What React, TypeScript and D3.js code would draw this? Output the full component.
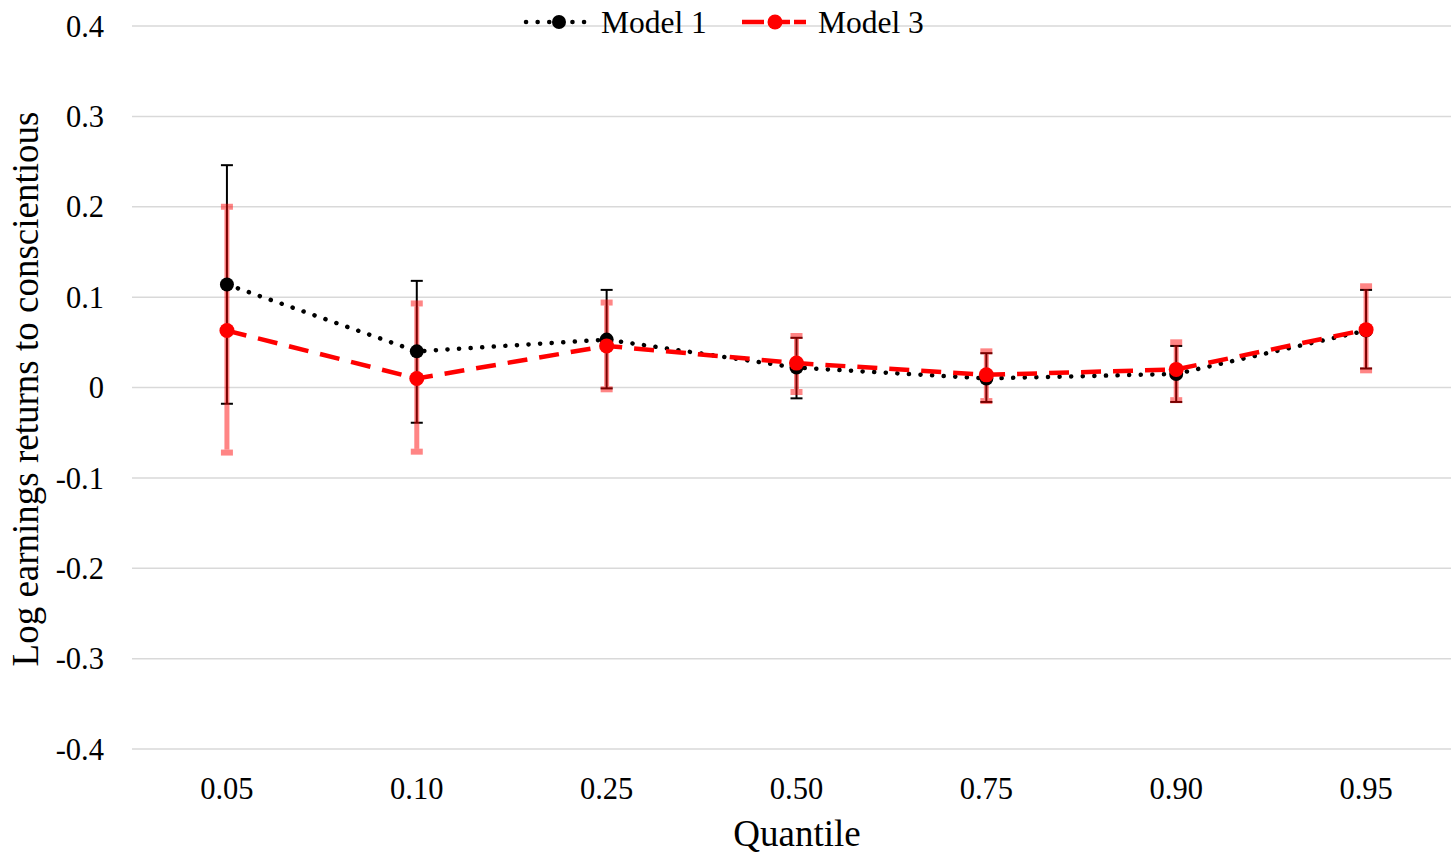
import React from "react";
import * as d3 from "d3";

const quantiles = ["0.05", "0.10", "0.25", "0.50", "0.75", "0.90", "0.95"];
const model1 = [0.114, 0.040, 0.053, 0.022, 0.010, 0.015, 0.063];
const model1Low = [-0.018, -0.039, -0.001, -0.012, -0.016, -0.016, 0.021];
const model1High = [0.246, 0.118, 0.108, 0.055, 0.038, 0.046, 0.108];
const model3 = [0.063, 0.010, 0.046, 0.027, 0.014, 0.020, 0.064];
const model3Low = [-0.072, -0.071, -0.002, -0.005, -0.015, -0.014, 0.019];
const model3High = [0.200, 0.093, 0.094, 0.057, 0.040, 0.050, 0.112];
const yTicks = [0.4, 0.3, 0.2, 0.1, 0, -0.1, -0.2, -0.3, -0.4];

const W = 1451;
const H = 857;
const left = 132;
const right = 1461;
const top = 26;
const bottom = 749;
const font = "'Liberation Serif', 'Times New Roman', serif";

const fmt = (t: number) => (t === 0 ? "0" : (t < 0 ? "-" : "") + Math.abs(t).toFixed(1));

export default function App() {
  const x = d3.scaleBand<string>().domain(quantiles).range([left, right]);
  const y = d3.scaleLinear().domain([-0.4, 0.4]).range([bottom, top]);
  const cx = (q: string) => (x(q) as number) + x.bandwidth() / 2;
  const line = d3
    .line<number>()
    .x((_, i) => cx(quantiles[i]))
    .y((v) => y(v));

  return (
    <svg width={W} height={H} style={{ position: "absolute", left: 0, top: 0, background: "#fff" }}>
      {yTicks.map((t) => (
        <g key={t}>
          <line x1={left} x2={W} y1={y(t)} y2={y(t)} stroke="#d9d9d9" strokeWidth={1.5} />
          <text x={104} y={y(t)} dy="0.35em" textAnchor="end" fontFamily={font} fontSize={30.5} fill="#000">
            {fmt(t)}
          </text>
        </g>
      ))}
      {quantiles.map((q) => (
        <text key={q} x={cx(q)} y={799} textAnchor="middle" fontFamily={font} fontSize={30.5} fill="#000">
          {q}
        </text>
      ))}
      <text x={797} y={846} textAnchor="middle" fontFamily={font} fontSize={37} fill="#000">
        Quantile
      </text>
      <text
        transform={`translate(38, ${389}) rotate(-90)`}
        textAnchor="middle"
        fontFamily={font}
        fontSize={37}
        fill="#000"
      >
        Log earnings returns to conscientious
      </text>

      {/* Model 1 error bars */}
      {quantiles.map((q, i) => (
        <g key={"e1" + q} stroke="#000" strokeWidth={2}>
          <line x1={cx(q)} x2={cx(q)} y1={y(model1High[i])} y2={y(model1Low[i])} />
          <line x1={cx(q) - 6} x2={cx(q) + 6} y1={y(model1High[i])} y2={y(model1High[i])} />
          <line x1={cx(q) - 6} x2={cx(q) + 6} y1={y(model1Low[i])} y2={y(model1Low[i])} />
        </g>
      ))}
      {/* Model 3 error bars */}
      {quantiles.map((q, i) => (
        <g key={"e3" + q} stroke="rgba(255,0,0,0.48)">
          <line x1={cx(q)} x2={cx(q)} y1={y(model3High[i]) + 3} y2={y(model3Low[i]) - 3} strokeWidth={5} />
          <line x1={cx(q) - 6} x2={cx(q) + 6} y1={y(model3High[i])} y2={y(model3High[i])} strokeWidth={6} />
          <line x1={cx(q) - 6} x2={cx(q) + 6} y1={y(model3Low[i])} y2={y(model3Low[i])} strokeWidth={6} />
        </g>
      ))}

      <path d={line(model1) || ""} fill="none" stroke="#000" strokeWidth={4.5} strokeDasharray="0.1 11.5" strokeLinecap="round" />
      {quantiles.map((q, i) => (
        <circle key={"p1" + q} cx={cx(q)} cy={y(model1[i])} r={7} fill="#000" />
      ))}
      <path d={line(model3) || ""} fill="none" stroke="#ff0000" strokeWidth={4.5} strokeDasharray="20 12" />
      {quantiles.map((q, i) => (
        <circle key={"p3" + q} cx={cx(q)} cy={y(model3[i])} r={7.5} fill="#ff0000" />
      ))}

      {/* Legend */}
      <g>
        <line x1={526} x2={592} y1={22} y2={22} stroke="#000" strokeWidth={4.5} strokeDasharray="0.1 11.5" strokeLinecap="round" />
        <circle cx={559} cy={22} r={7} fill="#000" />
        <text x={601} y={22} dy="0.35em" fontFamily={font} fontSize={31.5} fill="#000">Model 1</text>
        <line x1={742} x2={806} y1={22} y2={22} stroke="#ff0000" strokeWidth={4.5} strokeDasharray="22 4" />
        <circle cx={775} cy={22} r={7.5} fill="#ff0000" />
        <text x={818} y={22} dy="0.35em" fontFamily={font} fontSize={31.5} fill="#000">Model 3</text>
      </g>
    </svg>
  );
}
